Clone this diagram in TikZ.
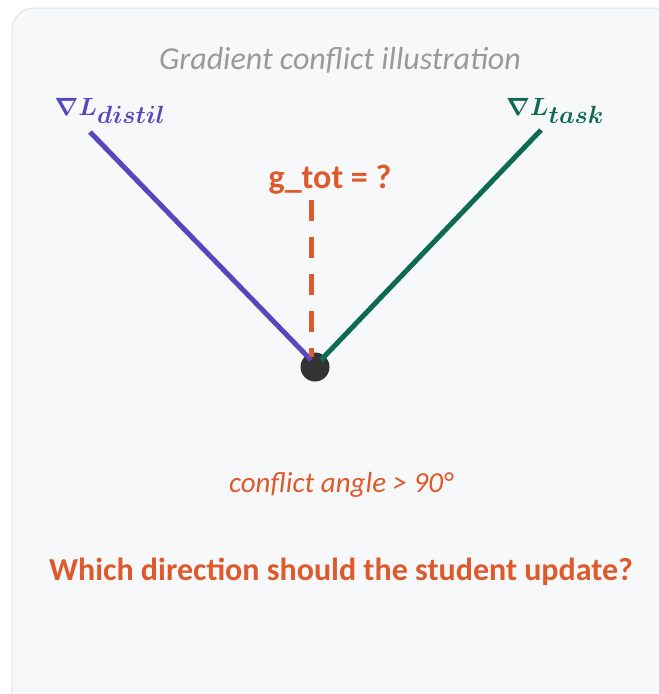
\documentclass[tikz,border=0pt]{standalone}
\usepackage{amsmath,amssymb}
\usepackage{fontspec}
\setmainfont{Carlito}
\usepackage{tikz}
\usetikzlibrary{positioning}
\DeclareMathSizes{28}{28}{23}{18}

\definecolor{panelbg}{HTML}{F7F8FA}
\definecolor{panelrule}{HTML}{E2E3E6}
\definecolor{distilc}{HTML}{5548BC}
\definecolor{taskc}{HTML}{0F6B50}
\definecolor{conflictc}{HTML}{DE5A2C}
\definecolor{captionc}{HTML}{9A9A9A}
\definecolor{dotc}{HTML}{333333}

\begin{document}
\begin{tikzpicture}[
  x=1pt, y=-1pt,
  every node/.style={inner sep=1pt},
  grad/.style={line width=5pt},
  label/.style={font=\fontsize{32}{36}\selectfont},
  mathlabel/.style={font=\fontsize{28}{32}\selectfont},
  guess/.style={conflictc, line width=5pt, dash pattern=on 21pt off 16pt}
]
\useasboundingbox (0,0) rectangle (659,694);
\draw[panelrule, fill=panelbg, line width=1pt, rounded corners=22pt] (12,8) rectangle (690,720);

\node[label, captionc] (title) at (340,60) {\itshape Gradient conflict illustration};
\node[mathlabel, distilc] (ldistil) at (110,111) {$\boldsymbol{\nabla L_{distil}}$};
\node[mathlabel, taskc] (ltask) at (555,111) {$\boldsymbol{\nabla L_{task}}$};
\node[label, conflictc, font=\fontsize{34}{38}\selectfont] (gtot) at (330,180) {\bfseries g\_tot = ?};

\node[circle, fill=dotc, minimum size=29pt, inner sep=0pt] (o) at (315,367) {};
\coordinate (dtip) at (90,132);
\coordinate (ttip) at (541,130);
\coordinate (dend) at (311,360);
\coordinate (tend) at (321,360);

\draw[grad, distilc] (dtip) -- (dend);
\draw[grad, taskc] (ttip) -- (tend);
\draw[guess] (311,200) -- (311,357);

\node[label, conflictc, font=\fontsize{29}{33}\selectfont] (angle) at (341,485) {\itshape conflict angle > 90°};
\node[label, conflictc] (ask) at (341,572) {\bfseries Which direction should the student update?};
\end{tikzpicture}
\end{document}
